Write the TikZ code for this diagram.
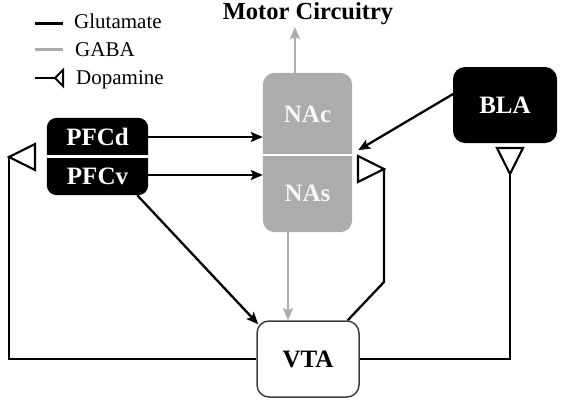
\documentclass[tikz,border=0pt]{standalone}
\usepackage{fontspec}
\setmainfont{Liberation Serif}
\usetikzlibrary{arrows.meta,calc,backgrounds}
\definecolor{gabagray}{RGB}{172,172,172}
\definecolor{boxgray}{RGB}{172,172,172}
\tikzset{
  dopa/.pic={\draw[line width=2.2pt, line join=miter, fill=white] (0,0) -- (26,13) -- (26,-13) -- cycle;}
}
\begin{document}
\begin{tikzpicture}[x=1pt,y=-1pt,
  big/.style={font=\fontsize{25}{25}\selectfont\bfseries},
  legtext/.style={font=\fontsize{21}{21}\selectfont, anchor=base west, inner sep=0pt},
  glu/.style={line width=2.3pt, black},
  gaba/.style={line width=2.3pt, gabagray},
  glutip/.style={-{Stealth[length=12pt,width=10pt,inset=2.5pt]}},
  gabatip/.style={-{Stealth[length=12pt,width=10pt,inset=2pt]}},
  halfbox/.style={big, inner sep=0pt},
  darkbox/.style={big, fill=black, text=white, rounded corners=12pt, inner sep=0pt},
  vtabox/.style={big, fill=white, draw=black!75, line width=1.5pt, rounded corners=12pt, inner sep=0pt}
]
\useasboundingbox (0,0) rectangle (565,402);

% legend
\draw[black, line width=3pt] (35,23) -- (63,23);
\draw[gabagray, line width=3pt] (35,49) -- (63,49);
\draw[glu] (35,78) -- (55,78);
\draw[line width=2pt, line join=miter] (55,78) -- (63,70) -- (63,86) -- cycle;
\node[legtext] (lglu) at (74,28) {Glutamate};
\node[legtext] (lgaba) at (75,56) {GABA};
\node[legtext] (ldopa) at (76,84) {Dopamine};

% title
\node[font=\fontsize{24.5}{24.5}\selectfont\bfseries, anchor=base, inner sep=0pt, text height=16pt] (motor) at (308,19) {Motor Circuitry};

% PFC
\node[halfbox, minimum width=101pt, minimum height=38pt, text=white] (pfcd) at (97.5,137) {PFCd};
\node[halfbox, minimum width=101pt, minimum height=38pt, text=white] (pfcv) at (97.5,176) {PFCv};
% NAc / NAs
\node[halfbox, minimum width=89pt, minimum height=82pt, text=white!93!gray] (nac) at (307.5,114) {NAc};
\node[halfbox, minimum width=89pt, minimum height=77pt, text=white!93!gray] (nas) at (307.5,193.5) {NAs};
\begin{scope}[on background layer]
  \fill[black, rounded corners=10pt] (pfcd.north west) rectangle (pfcv.south east);
  \draw[white, line width=2.5pt] ($(pfcd.south west)+(0,0.5)$) -- ($(pfcd.south east)+(0,0.5)$);
  \fill[boxgray, rounded corners=12pt] (nac.north west) rectangle (nas.south east);
  \draw[white, line width=2.5pt] (nac.south west) -- (nac.south east);
\end{scope}

% BLA, VTA
\node[darkbox, minimum width=104pt, minimum height=76pt] (bla) at (505,105) {BLA};
\node[vtabox, minimum width=102pt, minimum height=76pt] (vta) at (308,359) {VTA};

% GABA connectors
\coordinate (mc) at (295,27);
\draw[gaba, gabatip] (nac.north -| mc) -- (mc);
\draw[gaba, gabatip] (nas.south -| 288,0) -- (vta.north -| 288,0);

% Glutamate connectors
\draw[glu, glutip] (pfcd.east) -- (nac.west |- pfcd.east);
\draw[glu, glutip] ([yshift=1pt]pfcv.east) -- (nas.west |- 0,175);
\draw[glu, glutip] ([xshift=-11pt]pfcv.south east) -- ([shift={(2,4)}]vta.north west);
\draw[glu, glutip] ([shift={(2,-12)}]bla.west) -- ([shift={(6,-5)}]nac.south east);

% Dopamine connectors
\coordinate (dpfc) at (9,157);
\coordinate (dnas) at (384,169);
\coordinate (dbla) at (510,174);
\draw[glu] (vta.west) -| (dpfc);
\draw[glu] (vta.east) -| (dbla);
\draw[glu, line join=miter] ([xshift=-12pt]vta.north east) -- (384,282) -- (dnas);
\pic at (dpfc) {dopa};
\pic[rotate=180] at (dnas) {dopa};
\pic[rotate=90] at (dbla) {dopa};
\end{tikzpicture}
\end{document}
